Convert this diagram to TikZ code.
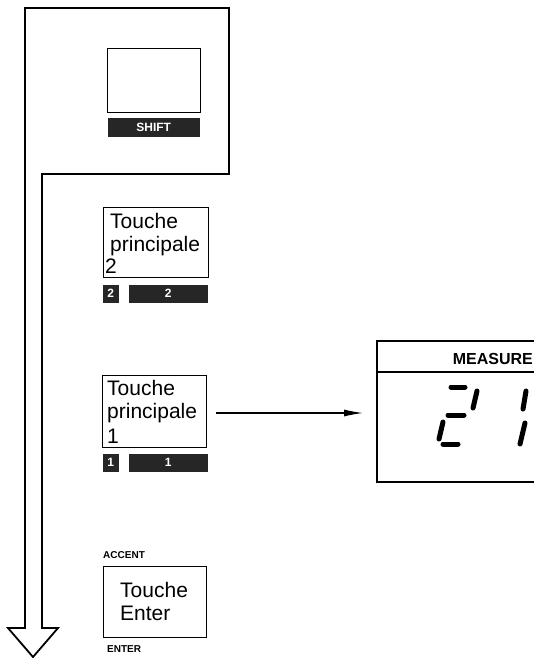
\documentclass[tikz,border=0pt]{standalone}
\usepackage{fontspec}
\setmainfont{Liberation Sans}
\usetikzlibrary{arrows.meta}
\begin{document}
\begin{tikzpicture}[x=1pt,y=-1pt,
  keybox/.style={draw=black,line width=1.4pt,anchor=north west,inner sep=0pt},
  keytxt/.style={anchor=base west,inner sep=0pt,font=\fontsize{21}{24}\selectfont},
  darkbar/.style={fill=black!85,draw=black!85,anchor=north west,inner sep=0pt},
  bartxt/.style={text=white,inner sep=0pt,font=\fontsize{12}{13}\selectfont\bfseries},
  smalllbl/.style={anchor=base west,inner sep=0pt,font=\fontsize{10}{12}\selectfont\bfseries},
  seg/.style={line width=5pt,line cap=round},
  flow/.style={line width=1.8pt,line join=miter}
]
\useasboundingbox (0,0) rectangle (534,658);
% big flow arrow
\draw[flow] (42,628) -- (42,174) -- (229,174) -- (229,8) -- (25,8) -- (25,628)
  -- (8,628) -- (33,657) -- (58,628) -- cycle;
% SHIFT key
\node[keybox,minimum width=93pt,minimum height=64pt] (shiftkey) at (107,48) {};
\node[darkbar,minimum width=91pt,minimum height=18pt] (shiftbar) at (108,118) {};
\node[bartxt] (shifttxt) at (shiftbar.center) {SHIFT};
% key 2
\node[keybox,minimum width=105pt,minimum height=70pt] (k2) at (103,207) {};
\node[keytxt] (k2a) at (110,228) {Touche};
\node[keytxt] (k2b) at (110,251) {principale};
\node[keytxt] (k2c) at (105,273) {2};
\node[darkbar,minimum width=15pt,minimum height=17pt] (k2sq) at (103,285) {};
\node[bartxt] at (k2sq.center) {2};
\node[darkbar,minimum width=78pt,minimum height=17pt] (k2bar) at (129,285) {};
\node[bartxt] at (k2bar.center) {2};
% key 1
\node[keybox,minimum width=104pt,minimum height=72pt] (k1) at (102,375) {};
\node[keytxt] (k1a) at (107,395) {Touche};
\node[keytxt] (k1b) at (107,418) {principale};
\node[keytxt] (k1c) at (107,443) {1};
\node[darkbar,minimum width=15pt,minimum height=17pt] (k1sq) at (103,454) {};
\node[bartxt] at (k1sq.center) {1};
\node[darkbar,minimum width=78pt,minimum height=17pt] (k1bar) at (129,454) {};
\node[bartxt] at (k1bar.center) {1};
% display
\coordinate (disp) at (377,413);
\begin{scope}
\clip (370,330) rectangle (534,490);
\draw[line width=1.3pt] (540,341) -- (377,341) -- (377,482) -- (540,482);
\draw[line width=1.1pt] (377,372) -- (540,372);
\end{scope}
\node[anchor=base east,inner sep=0pt,font=\fontsize{16}{18}\selectfont\bfseries] (meas) at (533,364) {MEASURE};
\draw[seg] (451,387) -- (465,387);
\draw[seg] (477,391) -- (473,408);
\draw[seg] (448,415) -- (464,415);
\draw[seg] (443,422) -- (439,439);
\draw[seg] (443,444) -- (458,444);
\draw[seg] (526,391) -- (523,409);
\draw[seg] (525,423) -- (520,444);
% arrow key1 -> display
\draw[line width=1.1pt,-{Latex[length=19pt,width=7pt]},shorten <=9pt,shorten >=14pt] (k1.east |- disp) -- (disp);
% enter key
\node[smalllbl] (accent) at (103,558) {ACCENT};
\node[keybox,minimum width=103pt,minimum height=71pt] (ke) at (103,566) {};
\node[keytxt] (kea) at (120,597) {Touche};
\node[keytxt] (keb) at (120,620) {Enter};
\node[smalllbl] (enter) at (107,652) {ENTER};
\end{tikzpicture}
\end{document}
